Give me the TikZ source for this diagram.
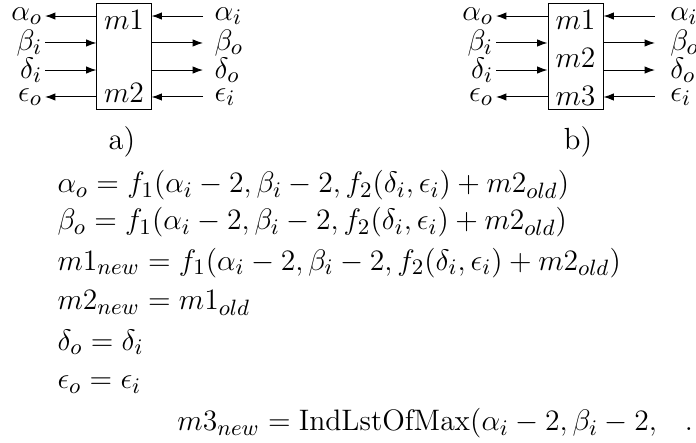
\documentclass[tikz,border=0pt]{standalone}
\usepackage{amsmath,amssymb}
\usetikzlibrary{arrows.meta,positioning}

\begin{document}
\begin{tikzpicture}[>={Latex[length=4.2pt,width=3pt]},
  font=\fontsize{12.4}{15}\selectfont,
  blk/.style={draw,minimum width=0.77cm,minimum height=1.52cm,inner sep=0pt},
  lbl/.style={inner sep=0.5pt},
  rule/.style={anchor=base west,inner sep=0pt}]
\useasboundingbox (0,0) rectangle (9.911,-6.308);

% block a)
\node[blk] (boxA) at (1.766,-0.805) {};
\node (mA1) at (1.766,-0.285) {$m1$};
\node (mA2) at (1.766,-1.324) {$m2$};
\coordinate (aoA) at (0.641,-0.228); \coordinate (biA) at (0.641,-0.612);
\coordinate (diA) at (0.641,-0.997); \coordinate (eoA) at (0.641,-1.381);
\coordinate (aiA) at (2.891,-0.228); \coordinate (boA) at (2.891,-0.612);
\coordinate (doA) at (2.891,-0.997); \coordinate (eiA) at (2.891,-1.381);
\node[lbl,left=0.5pt of aoA] (laoA) {$\alpha_o$}; \node[lbl,left=0.5pt of biA] (lbiA) {$\beta_i$};
\node[lbl,left=0.5pt of diA] (ldiA) {$\delta_i$}; \node[lbl,left=0.5pt of eoA] (leoA) {$\epsilon_o$};
\node[lbl,right=4pt of aiA] (laiA) {$\alpha_i$}; \node[lbl,right=4pt of boA] (lboA) {$\beta_o$};
\node[lbl,right=4pt of doA] (ldoA) {$\delta_o$}; \node[lbl,right=4pt of eiA] (leiA) {$\epsilon_i$};
\draw[<-] (aoA) -- (boxA.west |- aoA); \draw[->] (biA) -- (boxA.west |- biA);
\draw[->] (diA) -- (boxA.west |- diA); \draw[<-] (eoA) -- (boxA.west |- eoA);
\draw[->] (aiA) -- (boxA.east |- aiA); \draw[->] (boxA.east |- boA) -- (boA);
\draw[->] (boxA.east |- doA) -- (doA); \draw[->] (eiA) -- (boxA.east |- eiA);
\node (capA) at (1.737,-2.022) {a)};

% block b)
\node[blk,minimum width=0.783cm] (boxB) at (8.195,-0.805) {};
\node (mB1) at (8.195,-0.285) {$m1$};
\node (mB2) at (8.195,-0.826) {$m2$};
\node (mB3) at (8.195,-1.367) {$m3$};
\coordinate (aoB) at (7.063,-0.228); \coordinate (biB) at (7.063,-0.612);
\coordinate (diB) at (7.063,-0.997); \coordinate (eoB) at (7.063,-1.381);
\coordinate (aiB) at (9.327,-0.228); \coordinate (boB) at (9.327,-0.612);
\coordinate (doB) at (9.327,-0.997); \coordinate (eiB) at (9.327,-1.381);
\node[lbl,left=0.5pt of aoB] (laoB) {$\alpha_o$}; \node[lbl,left=0.5pt of biB] (lbiB) {$\beta_i$};
\node[lbl,left=0.5pt of diB] (ldiB) {$\delta_i$}; \node[lbl,left=0.5pt of eoB] (leoB) {$\epsilon_o$};
\node[lbl,right=5.5pt of aiB] (laiB) {$\alpha_i$}; \node[lbl,right=5.5pt of boB] (lboB) {$\beta_o$};
\node[lbl,right=5.5pt of doB] (ldoB) {$\delta_o$}; \node[lbl,right=5.5pt of eiB] (leiB) {$\epsilon_i$};
\draw[<-] (aoB) -- (boxB.west |- aoB); \draw[->] (biB) -- (boxB.west |- biB);
\draw[->] (diB) -- (boxB.west |- diB); \draw[<-] (eoB) -- (boxB.west |- eoB);
\draw[->] (aiB) -- (boxB.east |- aiB); \draw[->] (boxB.east |- boB) -- (boB);
\draw[->] (boxB.east |- doB) -- (doB); \draw[->] (eiB) -- (boxB.east |- eiB);
\node (capB) at (8.231,-2.022) {b)};

% update rules
\node[rule] (eqAo) at (0.812,-2.748) {$\alpha_o = f_1(\alpha_i-2,\beta_i-2,f_2(\delta_i,\epsilon_i)+m2_{old})$};
\node[rule] (eqBo) at (0.812,-3.275) {$\beta_o = f_1(\alpha_i-2,\beta_i-2,f_2(\delta_i,\epsilon_i)+m2_{old})$};
\node[rule] (eqM1) at (0.812,-3.845) {$m1_{new} = f_1(\alpha_i-2,\beta_i-2,f_2(\delta_i,\epsilon_i)+m2_{old})$};
\node[rule] (eqM2) at (0.812,-4.414) {$m2_{new} = m1_{old}$};
\node[rule] (eqDo) at (0.812,-4.984) {$\delta_o = \delta_i$};
\node[rule] (eqEo) at (0.812,-5.539) {$\epsilon_o = \epsilon_i$};
\node[rule] (eqM3) at (2.520,-6.137) {$m3_{new} = \mathrm{IndLstOfMax}(\alpha_i-2,\beta_i-2,\mkern14mu\ldots)$};
\end{tikzpicture}
\end{document}
